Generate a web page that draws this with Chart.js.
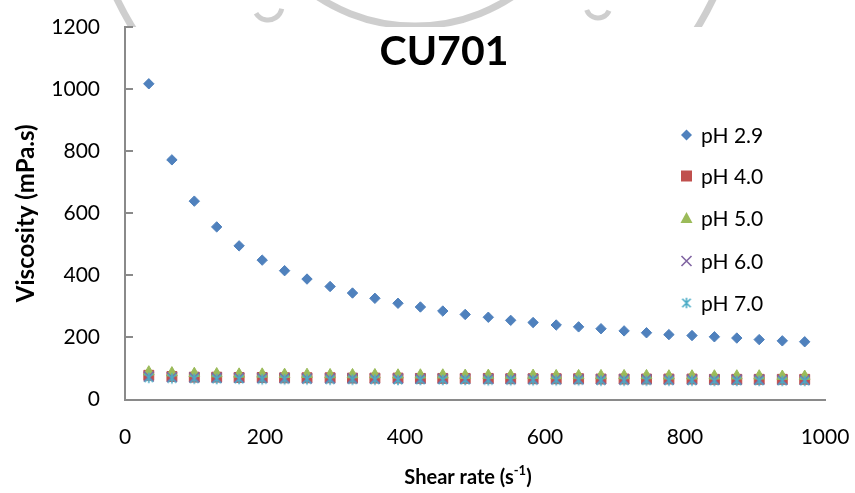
<!DOCTYPE html>
<html>
<head>
<meta charset="utf-8">
<script src="https://cdn.jsdelivr.net/npm/chart.js@4/dist/chart.umd.min.js"></script>
<style>
  html, body { margin: 0; padding: 0; background: #ffffff; }
  #wrap { width: 855px; height: 493px; }
</style>
</head>
<body>
<div id="wrap"><canvas id="c" width="855" height="493"></canvas></div>
<script>
// Shear rate (s^-1) at each measurement step
const shearRate = [34, 67, 99, 131, 163, 196, 228, 260, 293, 325, 357, 390, 422, 454, 486,
                   519, 551, 583, 616, 648, 680, 713, 745, 777, 810, 842, 874, 906, 939, 971];

// Viscosity (mPa.s) for each pH
const viscPH29 = [1017, 772, 639, 556, 495, 449, 415, 388, 364, 343, 326, 310, 298, 285, 274,
                  265, 255, 248, 240, 234, 228, 221, 215, 209, 206, 202, 198, 193, 189, 186];
const viscPH40 = [78, 74, 72, 72, 71, 71, 70, 70, 70, 69, 69, 69, 68, 68, 68,
                  68, 67, 67, 67, 67, 66, 66, 66, 66, 66, 65, 65, 65, 65, 65];
const viscPH50 = [89, 86, 84, 83, 82, 82, 81, 81, 80, 80, 80, 79, 79, 79, 78,
                  78, 78, 78, 77, 77, 77, 77, 77, 76, 76, 76, 76, 76, 75, 75];
const viscPH60 = [74, 72, 71, 70, 70, 69, 69, 68, 68, 68, 67, 67, 67, 67, 66,
                  66, 66, 66, 65, 65, 65, 65, 65, 64, 64, 64, 64, 64, 63, 63];
const viscPH70 = [70, 68, 67, 66, 66, 65, 65, 65, 64, 64, 64, 63, 63, 63, 63,
                  62, 62, 62, 62, 62, 61, 61, 61, 61, 61, 60, 60, 60, 60, 60];

const seriesNames = ['pH 2.9', 'pH 4.0', 'pH 5.0', 'pH 6.0', 'pH 7.0'];
const xTickValues = [0, 200, 400, 600, 800, 1000];
const yTickValues = [0, 200, 400, 600, 800, 1000, 1200];

const chartTitle = 'CU701';
const yTitle = 'Viscosity (mPa.s)';
const xTitleMain = 'Shear rate (s';
const xTitleSup = '-1';
const xTitleEnd = ')';

const COLORS = ['#4F81BD', '#C0504D', '#9BBB59', '#8064A2', '#4BACC6'];
const FONT = 'Lato, "Open Sans", "DejaVu Sans", sans-serif';
const AXIS_GRAY = '#8a8a8a';

// asterisk marker: an X with a vertical bar
function makeAsterisk(color) {
  const s = 14, c = document.createElement('canvas');
  c.width = s; c.height = s;
  const g = c.getContext('2d');
  g.strokeStyle = color; g.lineWidth = 1.6; g.lineCap = 'butt';
  const m = s / 2, a = 4.2, v = 5.2;
  g.beginPath();
  g.moveTo(m - a, m - a); g.lineTo(m + a, m + a);
  g.moveTo(m + a, m - a); g.lineTo(m - a, m + a);
  g.moveTo(m, m - v); g.lineTo(m, m + v);
  g.stroke();
  return c;
}
const asteriskImg = makeAsterisk(COLORS[4]);

function toPoints(ys) { return shearRate.map((x, i) => ({ x: x, y: ys[i] })); }

const datasets = [
  { label: seriesNames[0], data: toPoints(viscPH29), pointStyle: 'rectRot', radius: 5.2, borderWidth: 1, order: 4 },
  { label: seriesNames[1], data: toPoints(viscPH40), pointStyle: 'rect', radius: 7, borderWidth: 1, order: 3 },
  { label: seriesNames[2], data: toPoints(viscPH50), pointStyle: 'triangle', radius: 6.2, borderWidth: 1, order: 2 },
  { label: seriesNames[3], data: toPoints(viscPH60), pointStyle: 'crossRot', radius: 7, borderWidth: 1.6, order: 1 },
  { label: seriesNames[4], data: toPoints(viscPH70), pointStyle: asteriskImg, radius: 6, borderWidth: 1, order: 0 }
].map((d, i) => Object.assign(d, {
  showLine: false,
  backgroundColor: COLORS[i],
  borderColor: COLORS[i],
  pointRadius: d.radius,
  pointHoverRadius: d.radius,
  pointBorderWidth: d.borderWidth
}));

// faint seal watermark behind the chart, plus white plot area
const backdrop = {
  id: 'backdrop',
  beforeDraw(chart) {
    const ctx = chart.ctx, a = chart.chartArea;
    ctx.save();
    ctx.fillStyle = '#ffffff';
    ctx.fillRect(0, 0, chart.width, chart.height);
    ctx.strokeStyle = 'rgba(165,165,165,0.55)';
    ctx.lineWidth = 7;
    ctx.beginPath(); ctx.arc(415, -145, 331, 0, Math.PI); ctx.stroke();
    ctx.beginPath(); ctx.arc(415, -150, 176, 0, Math.PI); ctx.stroke();
    ctx.lineWidth = 5;
    ctx.beginPath(); ctx.arc(268, 6, 14, 0.2, 2.6); ctx.stroke();
    ctx.beginPath(); ctx.arc(598, 6, 12, 0.4, 2.8); ctx.stroke();
    ctx.fillStyle = '#ffffff';
    ctx.fillRect(a.left, a.top, a.right - a.left, a.bottom - a.top);
    ctx.restore();
  }
};

// inward tick marks on the value axis
const innerTicks = {
  id: 'innerTicks',
  afterDraw(chart) {
    const ctx = chart.ctx, y = chart.scales.y, left = chart.chartArea.left;
    ctx.save();
    ctx.strokeStyle = AXIS_GRAY; ctx.lineWidth = 2;
    yTickValues.forEach(v => {
      const py = Math.round(y.getPixelForValue(v));
      ctx.beginPath(); ctx.moveTo(left, py); ctx.lineTo(left + 8, py); ctx.stroke();
    });
    ctx.restore();
  }
};

function drawSymbol(ctx, i, x, y) {
  ctx.save();
  ctx.fillStyle = COLORS[i]; ctx.strokeStyle = COLORS[i];
  ctx.beginPath();
  if (i === 0) {
    const r = 5.5;
    ctx.moveTo(x, y - r); ctx.lineTo(x + r, y); ctx.lineTo(x, y + r); ctx.lineTo(x - r, y); ctx.closePath(); ctx.fill();
  } else if (i === 1) {
    ctx.rect(x - 5.5, y - 5.5, 11, 11); ctx.fill();
  } else if (i === 2) {
    ctx.moveTo(x, y - 6); ctx.lineTo(x + 6, y + 5); ctx.lineTo(x - 6, y + 5); ctx.closePath(); ctx.fill();
  } else if (i === 3) {
    ctx.lineWidth = 1.6;
    ctx.moveTo(x - 5, y - 5); ctx.lineTo(x + 5, y + 5);
    ctx.moveTo(x + 5, y - 5); ctx.lineTo(x - 5, y + 5); ctx.stroke();
  } else {
    ctx.drawImage(asteriskImg, x - 7, y - 7);
  }
  ctx.restore();
}

// chart title, legend and x-axis title with superscript
const labelsPlugin = {
  id: 'labels',
  afterDraw(chart) {
    const ctx = chart.ctx;
    ctx.save();
    ctx.fillStyle = '#000000';
    ctx.textBaseline = 'middle';
    ctx.textAlign = 'center';
    ctx.font = 'bold 41px ' + FONT;
    ctx.fillText(chartTitle, 444, 52);

    const rows = [135, 176, 218, 261, 303];
    ctx.textAlign = 'left';
    ctx.font = '21px ' + FONT;
    seriesNames.forEach((n, i) => {
      drawSymbol(ctx, i, 686.5, rows[i]);
      ctx.fillStyle = '#000000';
      ctx.fillText(n, 701, rows[i] + 1);
    });

    const bold = 'bold 20px ' + FONT, small = 'bold 13px ' + FONT;
    ctx.font = bold; const w1 = ctx.measureText(xTitleMain).width, w3 = ctx.measureText(xTitleEnd).width;
    ctx.font = small; const w2 = ctx.measureText(xTitleSup).width;
    let x0 = 468 - (w1 + w2 + w3) / 2;
    const ty = 478;
    ctx.font = bold; ctx.fillText(xTitleMain, x0, ty);
    ctx.font = small; ctx.fillText(xTitleSup, x0 + w1, ty - 7);
    ctx.font = bold; ctx.fillText(xTitleEnd, x0 + w1 + w2, ty);
    ctx.restore();
  }
};

const plainNumber = v => String(v);

function build() {
  new Chart(document.getElementById('c'), {
    type: 'scatter',
    data: { datasets: datasets },
    options: {
      responsive: false,
      animation: false,
      devicePixelRatio: 1,
      layout: { padding: { top: 27, right: 30, bottom: 0, left: 0 } },
      plugins: { legend: { display: false }, tooltip: { enabled: false }, title: { display: false } },
      scales: {
        x: {
          type: 'linear', min: 0, max: 1000,
          afterBuildTicks: s => { s.ticks = xTickValues.map(v => ({ value: v })); },
          afterFit: s => { s.height = 93.5; s.paddingLeft = 0; s.paddingRight = 0; },
          grid: { display: false, drawTicks: false },
          border: { display: true, color: AXIS_GRAY, width: 2 },
          ticks: { color: '#000000', padding: 25, maxRotation: 0, callback: plainNumber, font: { family: FONT, size: 21 } },
          title: { display: false }
        },
        y: {
          type: 'linear', min: 0, max: 1200,
          afterBuildTicks: s => { s.ticks = yTickValues.map(v => ({ value: v })); },
          afterFit: s => { s.width = 125; s.paddingTop = 0; s.paddingBottom = 0; },
          grid: { display: false, drawTicks: false },
          border: { display: true, color: AXIS_GRAY, width: 2 },
          ticks: { color: '#000000', padding: 25, callback: plainNumber, font: { family: FONT, size: 21 } },
          title: { display: true, text: yTitle, color: '#000000', padding: { top: 12, bottom: 0 }, font: { family: FONT, size: 24, weight: 'bold' } }
        }
      }
    },
    plugins: [backdrop, innerTicks, labelsPlugin]
  });
}

if (document.fonts && document.fonts.load) {
  Promise.all([document.fonts.load('21px Lato'), document.fonts.load('bold 21px Lato')]).then(build, build);
} else { build(); }
</script>
</body>
</html>
